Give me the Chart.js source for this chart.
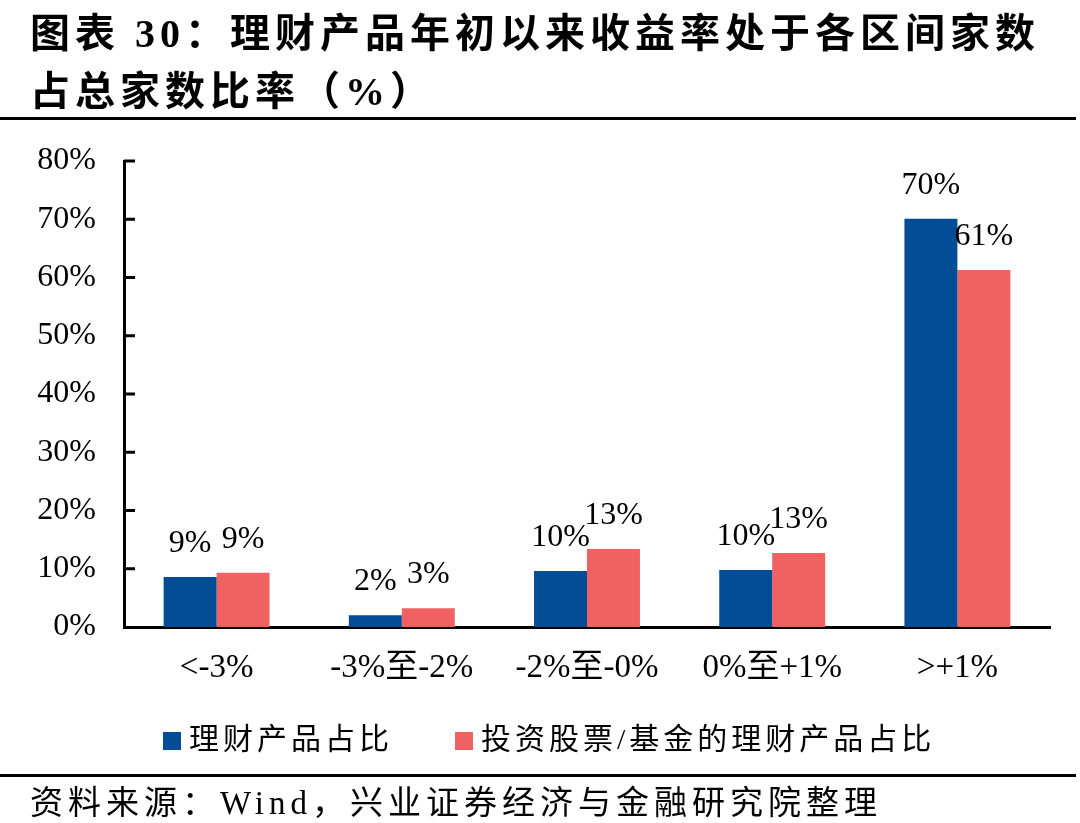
<!DOCTYPE html>
<html>
<head>
<meta charset="utf-8">
<script src="https://cdn.jsdelivr.net/npm/chart.js@4.4.0/dist/chart.umd.min.js"></script>
<style>
  body { margin: 0; background: #fff; }
  #page { position: relative; width: 1080px; height: 823px; overflow: hidden; background: #fff; }
  #chart-box { position: absolute; left: 0; top: 0; width: 1080px; height: 823px; }
  .title { position: absolute; left: 30px; font-family: "Liberation Serif", "Noto Sans CJK SC", serif; font-weight: bold; font-size: 40px; letter-spacing: 5px; color: #000; white-space: nowrap; line-height: 1; }
  .rule { position: absolute; left: 0; width: 1076px; height: 3px; background: #000; }
  .legend { position: absolute; top: 722px; font-family: "Liberation Serif", "Noto Sans CJK SC", serif; font-size: 30px; letter-spacing: 4px; color: #000; white-space: nowrap; line-height: 34px; }
  .legend span { display: inline-block; width: 18px; height: 18px; margin-right: 8px; vertical-align: -1px; }
  .source { position: absolute; left: 30px; top: 785px; font-family: "Liberation Serif", "Noto Sans CJK SC", serif; font-size: 33px; letter-spacing: 5px; color: #000; white-space: nowrap; line-height: 36px; }
</style>
</head>
<body>
<div id="page">
  <div id="chart-box"><canvas id="bar-chart"></canvas></div>
  <div class="title" style="top:14px">图表 30：理财产品年初以来收益率处于各区间家数</div>
  <div class="title" style="top:72px">占总家数比率（%）</div>
  <div class="rule" style="top:117px"></div>
  <div class="legend" id="legend"></div>
  <div class="rule" style="top:774px"></div>
  <div class="source">资料来源：Wind，兴业证券经济与金融研究院整理</div>
</div>
<script>
const categories = ["<-3%", "-3%至-2%", "-2%至-0%", "0%至+1%", ">+1%"];
const productShare = [8.6, 2.0, 9.6, 9.8, 70.1];
const stockFundShare = [9.3, 3.2, 13.4, 12.7, 61.3];
const seriesNames = ["理财产品占比", "投资股票/基金的理财产品占比"];
const colors = ["#034c96", "#f06262"];
const yTicks = [0, 10, 20, 30, 40, 50, 60, 70, 80];

const numFont = '"Liberation Serif", "Noto Sans CJK SC", serif';

// 数据标签
const barLabels = {
  id: "barLabels",
  afterDatasetsDraw(chart) {
    const ctx = chart.ctx;
    ctx.save();
    ctx.font = "32px " + numFont;
    ctx.fillStyle = "#000";
    ctx.textAlign = "center";
    ctx.textBaseline = "alphabetic";
    chart.data.datasets.forEach((ds, i) => {
      chart.getDatasetMeta(i).data.forEach((bar, j) => {
        ctx.fillText(Math.round(ds.data[j]) + "%", bar.x, bar.y - 25);
      });
    });
    ctx.restore();
  },
};

// y 轴内侧刻度线
const innerTicks = {
  id: "innerTicks",
  afterDraw(chart) {
    const ctx = chart.ctx;
    const y = chart.scales.y;
    ctx.save();
    ctx.strokeStyle = "#000";
    ctx.lineWidth = 3;
    yTicks.forEach((v) => {
      if (v === 0) return;
      const py = y.getPixelForValue(v);
      ctx.beginPath();
      ctx.moveTo(chart.chartArea.left, py);
      ctx.lineTo(chart.chartArea.left + 11, py);
      ctx.stroke();
    });
    ctx.restore();
  },
};

new Chart(document.getElementById("bar-chart"), {
  type: "bar",
  data: {
    labels: categories,
    datasets: [
      { label: seriesNames[0], data: productShare, backgroundColor: colors[0] },
      { label: seriesNames[1], data: stockFundShare, backgroundColor: colors[1] },
    ],
  },
  options: {
    responsive: true,
    maintainAspectRatio: false,
    animation: false,
    layout: { padding: { left: 0, top: 161, right: 30, bottom: 136 } },
    datasets: { bar: { barPercentage: 1, categoryPercentage: 0.572, borderWidth: 0 } },
    plugins: { legend: { display: false }, tooltip: { enabled: false } },
    scales: {
      x: {
        grid: { display: false, drawTicks: false },
        border: { display: true, color: "#000", width: 3 },
        ticks: { color: "#000", padding: 22, font: { family: numFont, size: 33 } },
        afterFit(s) { s.height = 60; },
      },
      y: {
        min: 0,
        max: 80,
        grid: { display: false, drawTicks: false },
        border: { display: true, color: "#000", width: 3 },
        ticks: {
          stepSize: 10,
          color: "#000",
          padding: 28,
          font: { family: numFont, size: 32 },
          callback: (v) => v + "%",
        },
        afterFit(s) { s.width = 124; },
      },
    },
  },
  plugins: [barLabels, innerTicks],
});

// 图例
const legend = document.getElementById("legend");
legend.style.left = "163px";
legend.innerHTML =
  `<span style="background:${colors[0]}"></span>${seriesNames[0]}` +
  `<span style="background:${colors[1]};margin-left:62px"></span>${seriesNames[1]}`;
</script>
</body>
</html>
